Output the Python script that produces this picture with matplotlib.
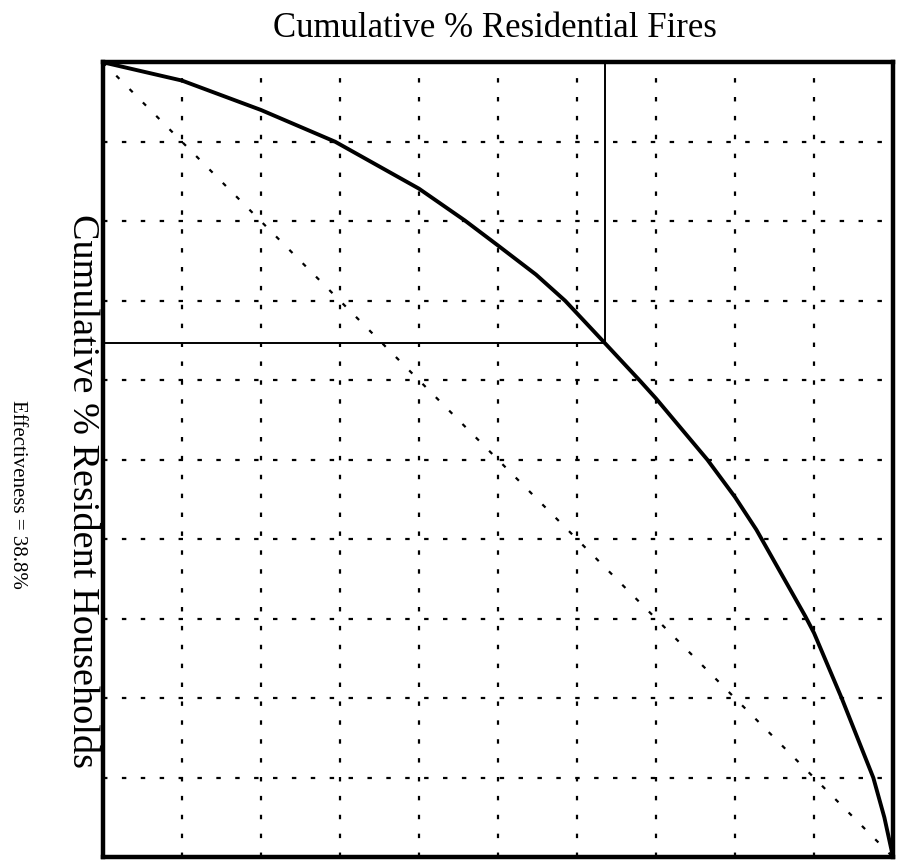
import matplotlib
matplotlib.use("Agg")
import matplotlib.pyplot as plt

# Curva (% acumulado de incêndios x % acumulado de domicílios)
fires_pct = [0, 10, 20, 29.4, 40, 45.8, 50, 54.8, 58.5, 63.5, 68, 70,
             76.5, 80, 82.7, 88.9, 90, 93.5, 97.5, 98.9, 100]
households_pct = [100, 97.7, 94.0, 90, 84.1, 80.1, 76.95, 73.3, 70.0, 64.7, 59.9, 57.7,
                  50, 45.3, 41.2, 30.3, 28.2, 20, 10, 5, 0]

# Ponto de corte marcado pelas linhas finas
cut_x = 63.5
cut_y = 64.7

grid_ticks = [10, 20, 30, 40, 50, 60, 70, 80, 90]
effectiveness_label = "Effectiveness = 38.8%"

plt.rcParams['font.family'] = ['Liberation Serif', 'DejaVu Serif']

fig = plt.figure(figsize=(9.03, 8.65), dpi=100)
ax = fig.add_axes([0.114, 0.009, 0.875, 0.919])

ax.set_xlim(0, 100)
ax.set_ylim(0, 100)

# grade pontilhada
for g in grid_ticks:
    ax.axvline(g, color='black', lw=1.6, ls=(0, (2, 6.5)), zorder=1)
    ax.axhline(g, color='black', lw=1.6, ls=(0, (2, 6.5)), zorder=1)

# diagonal de referência
ax.plot([0, 100], [100, 0], color='black', lw=1.6, ls=(0, (2, 6.5)), zorder=2)

# curva principal
ax.plot(fires_pct, households_pct, color='black', lw=2.8, zorder=3,
        solid_joinstyle='round')

# linhas do ponto de corte
ax.plot([cut_x, cut_x], [cut_y, 100], color='black', lw=1.4, zorder=3)
ax.plot([0, cut_x], [cut_y, cut_y], color='black', lw=1.4, zorder=3)

ax.set_xticks([])
ax.set_yticks([])
for s in ax.spines.values():
    s.set_linewidth(3.2)

fig.text(0.548, 0.967, "Cumulative % Residential Fires", ha='center', va='center',
         fontsize=25)
fig.text(0.091, 0.432, "Cumulative % Resident Households", ha='center', va='center',
         rotation=270, fontsize=27.5)
fig.text(0.019, 0.428, effectiveness_label, ha='center', va='center',
         rotation=270, fontsize=15)

fig.savefig("out.png", dpi=100)
